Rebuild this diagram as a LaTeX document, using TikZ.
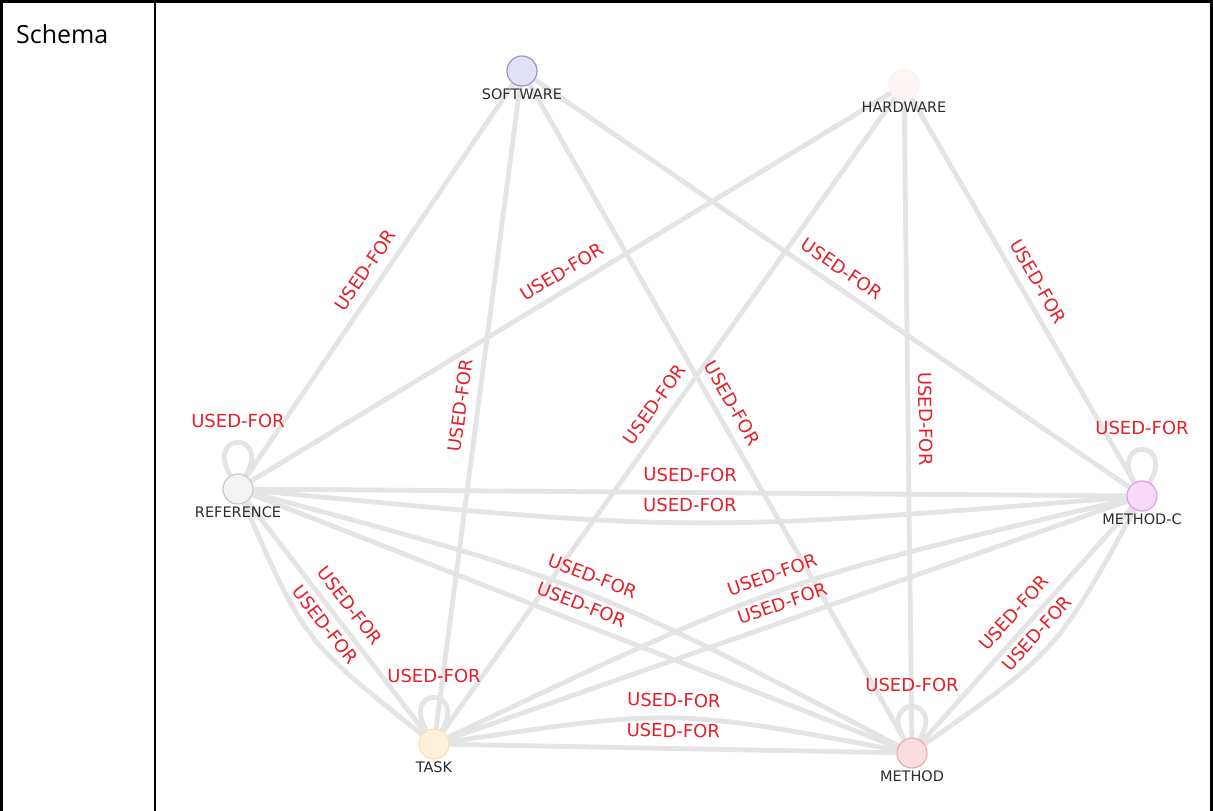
\documentclass[tikz,border=0pt]{standalone}
\usepackage{fontspec}
\setmainfont{Open Sans}
\newfontfamily\djv{DejaVu Sans}
\usetikzlibrary{calc,backgrounds}

\definecolor{edgegray}{RGB}{228,228,228}
\definecolor{lblred}{RGB}{228,32,42}
\definecolor{nodetext}{RGB}{45,45,45}
\definecolor{swfill}{RGB}{224,224,246}
\definecolor{swdraw}{RGB}{150,150,200}
\definecolor{hwfill}{RGB}{255,245,245}
\definecolor{hwdraw}{RGB}{253,238,238}
\definecolor{reffill}{RGB}{243,243,243}
\definecolor{refdraw}{RGB}{200,200,200}
\definecolor{mcfill}{RGB}{250,216,250}
\definecolor{mcdraw}{RGB}{222,160,226}
\definecolor{taskfill}{RGB}{253,241,220}
\definecolor{taskdraw}{RGB}{246,222,184}
\definecolor{methfill}{RGB}{250,221,221}
\definecolor{methdraw}{RGB}{232,172,172}

\tikzset{
  vnode/.style={circle, minimum size=30pt, inner sep=0pt, line width=1.2pt},
  vtext/.style={font=\djv\fontsize{14.5}{15}\selectfont, text=nodetext, inner sep=0pt},
  rel/.style={draw=edgegray, line width=4.8pt},
  rlbl/.style={midway, sloped, above=8.5pt, inner sep=0pt, text=lblred,
    font=\djv\fontsize{18}{20}\selectfont},
  looplbl/.style={pos=0.5, above=12pt, inner sep=0pt, text=lblred,
    font=\djv\fontsize{18}{20}\selectfont},
  frame/.style={line width=2.6pt, draw=black},
}

\begin{document}
\begin{tikzpicture}[x=1pt, y=-1pt]
\useasboundingbox (0,0) rectangle (1213,811);

% table frame
\draw[frame] (1.3,811) -- (1.3,1.3) -- (1211.7,1.3) -- (1211.7,811);
\draw[frame] (155,0) -- (155,811);
\node[anchor=base west, inner sep=0pt, font=\fontsize{25}{30}\selectfont] (title) at (16,43.5) {Schema};

% entities
\node[vnode, fill=swfill, draw=swdraw, label={[vtext, label distance=1.5pt]below:SOFTWARE}] (sw) at (522,71) {};
\node[vnode, fill=hwfill, draw=hwdraw, label={[vtext, label distance=1.5pt]below:HARDWARE}] (hw) at (904,85) {};
\node[vnode, fill=reffill, draw=refdraw, label={[vtext, label distance=1.5pt]below:REFERENCE}] (ref) at (238,489) {};
\node[vnode, fill=mcfill, draw=mcdraw, label={[vtext, label distance=1.5pt]below:METHOD-C}] (mc) at (1142,496) {};
\node[vnode, fill=taskfill, draw=taskdraw, label={[vtext, label distance=1.5pt]below:TASK}] (task) at (434,744) {};
\node[vnode, fill=methfill, draw=methdraw, label={[vtext, label distance=1.5pt]below:METHOD}] (meth) at (912,753) {};

% relations, drawn beneath the entities
\begin{scope}[on background layer]
  \fill[white] (0,0) rectangle (1213,811);

  \draw[rel] (sw) -- (ref) node[rlbl]{USED-FOR};
  \draw[rel] (hw) -- (ref) node[rlbl]{USED-FOR};
  \draw[rel] (sw) -- (task) node[rlbl]{USED-FOR};
  \draw[rel] (hw) -- (task) node[rlbl]{USED-FOR};
  \draw[rel] (sw) -- (meth) node[rlbl]{USED-FOR};
  \draw[rel] (sw) -- (mc) node[rlbl]{USED-FOR};
  \draw[rel] (hw) -- (meth) node[rlbl]{USED-FOR};
  \draw[rel] (hw) -- (mc) node[rlbl]{USED-FOR};

  \draw[rel] (ref) -- (mc) node[rlbl]{USED-FOR};
  \draw[rel] (ref) .. controls ($(ref)!0.5!(mc)!40pt!-90:(mc)$) .. (mc) node[rlbl]{USED-FOR};
  \draw[rel] (ref) -- (task) node[rlbl]{USED-FOR};
  \draw[rel] (ref) .. controls ($(ref)!0.5!(task)!40pt!-90:(task)$) .. (task) node[rlbl]{USED-FOR};
  \draw[rel] (ref) -- (meth) node[rlbl]{USED-FOR};
  \draw[rel] (ref) .. controls ($(ref)!0.5!(meth)!40pt!90:(meth)$) .. (meth) node[rlbl]{USED-FOR};
  \draw[rel] (task) -- (mc) node[rlbl]{USED-FOR};
  \draw[rel] (task) .. controls ($(task)!0.5!(mc)!40pt!90:(mc)$) .. (mc) node[rlbl]{USED-FOR};
  \draw[rel] (task) -- (meth) node[rlbl]{USED-FOR};
  \draw[rel] (task) .. controls ($(task)!0.5!(meth)!40pt!90:(meth)$) .. (meth) node[rlbl]{USED-FOR};
  \draw[rel] (meth) -- (mc) node[rlbl]{USED-FOR};
  \draw[rel] (meth) .. controls ($(meth)!0.5!(mc)!40pt!-90:(mc)$) .. (mc) node[rlbl]{USED-FOR};

  % self relations
  \draw[rel] (ref.120) .. controls +(120:51pt) and +(60:51pt) .. (ref.60) node[looplbl]{USED-FOR};
  \draw[rel] (mc.120) .. controls +(120:51pt) and +(60:51pt) .. (mc.60) node[looplbl]{USED-FOR};
  \draw[rel] (task.120) .. controls +(120:51pt) and +(60:51pt) .. (task.60) node[looplbl]{USED-FOR};
  \draw[rel] (meth.120) .. controls +(120:51pt) and +(60:51pt) .. (meth.60) node[looplbl]{USED-FOR};
\end{scope}
\end{tikzpicture}
\end{document}
